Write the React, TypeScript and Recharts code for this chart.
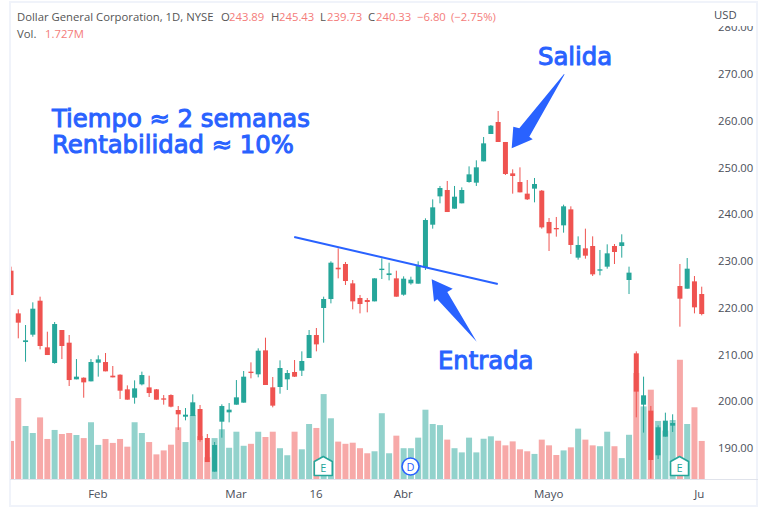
import React from "react";
import {
  ComposedChart,
  Bar,
  Cell,
  XAxis,
  YAxis,
  ReferenceLine,
  ReferenceDot,
} from "recharts";

const UP = "#26a69a";
const DOWN = "#ef5350";
const BLUE = "#2962ff";
const FONT = "'Open Sans', sans-serif";

const opens = [
  227.93, 218.8, 212.67, 214.24, 221.51, 211.53, 208.18, 215.24, 212.53, 204.69,
  205.04, 204.26, 208.25, 208.39, 205.47, 205.68, 202.55, 200.76, 203.62, 202.97,
  202.55, 200.62, 201.33, 198.13, 196.7, 196.84, 198.34, 192.14, 184.94, 195.63,
  197.63, 199.27, 199.7, 206.33, 205.76, 210.89, 202.98, 203.05, 204.69, 206.26,
  206.54, 209.25, 214.17, 219.95, 221.87, 228.57, 229.36, 225.22, 222.09, 221.66,
  221.37, 228.07, 227.0, 226.29, 222.8, 225.22, 225.15, 228.65, 237.77, 243.83,
  245.19, 241.2, 242.34, 246.9, 246.76, 251.32, 257.17, 259.74, 255.46, 248.75,
  246.9, 244.41, 245.48, 245.05, 238.35, 237.06, 237.63, 241.05, 230.72, 232.71,
  233.21, 227.94, 228.79, 233.21, 233.21, 225.94, 210.25, 199.27, 197.99, 188.44,
  192.43, 194.78, 224.65, 224.08, 225.65, 222.94,
];
const highs = [
  228.79, 219.66, 216.31, 221.16, 222.37, 214.88, 216.95, 215.24, 214.17, 209.03,
  205.11, 209.03, 209.82, 210.32, 207.54, 205.76, 203.4, 204.47, 206.33, 205.47,
  202.62, 201.33, 201.48, 198.98, 198.55, 201.48, 199.2, 192.99, 191.28, 199.34,
  199.62, 204.54, 206.47, 208.32, 211.32, 213.6, 205.19, 208.75, 206.68, 208.82,
  210.68, 215.24, 215.67, 222.37, 229.93, 232.71, 229.79, 225.93, 222.73, 222.09,
  226.29, 230.57, 229.64, 227.93, 226.72, 226.65, 229.93, 239.13, 243.19, 246.05,
  247.12, 246.05, 245.76, 250.25, 251.54, 256.53, 259.09, 262.09, 255.46, 249.61,
  250.04, 247.33, 247.76, 245.19, 239.2, 239.42, 242.05, 241.7, 235.28, 236.92,
  235.28, 232.36, 233.57, 233.64, 235.71, 228.79, 210.68, 205.26, 198.99, 194.85,
  197.56, 197.21, 229.36, 230.64, 226.79, 224.51,
];
const lows = [
  222.72, 213.46, 208.46, 213.81, 211.1, 209.89, 208.04, 209.03, 203.26, 204.69,
  200.76, 204.26, 205.26, 206.4, 205.11, 200.48, 200.34, 199.48, 203.4, 200.91,
  200.34, 199.27, 198.7, 193.85, 195.92, 196.84, 191.35, 187.0, 184.94, 192.21,
  195.49, 199.27, 199.7, 204.9, 205.12, 203.48, 198.7, 201.62, 202.41, 205.19,
  205.4, 209.25, 210.68, 212.53, 220.94, 226.29, 224.87, 219.66, 218.8, 219.02,
  221.37, 226.15, 225.86, 222.37, 222.58, 224.94, 225.15, 228.08, 236.92, 242.34,
  240.48, 241.2, 242.34, 246.76, 246.05, 251.32, 257.17, 255.46, 248.4, 244.41,
  244.69, 243.05, 242.55, 236.92, 232.14, 235.21, 236.06, 231.5, 230.29, 230.5,
  226.79, 226.94, 228.36, 229.36, 230.72, 222.94, 196.56, 193.29, 183.5, 187.65,
  192.43, 193.43, 215.95, 224.08, 218.8, 218.38,
];
const closes = [
  222.72, 216.81, 213.03, 219.8, 211.82, 209.89, 216.52, 211.82, 204.54, 205.26,
  204.04, 208.39, 208.96, 206.4, 205.11, 202.26, 200.34, 202.76, 205.61, 201.76,
  200.34, 200.34, 198.84, 197.2, 197.13, 199.77, 191.71, 187.0, 190.64, 198.98,
  198.2, 200.84, 205.26, 206.04, 210.82, 203.48, 199.06, 207.11, 206.04, 205.26,
  208.61, 214.17, 212.17, 221.87, 229.64, 228.22, 225.72, 221.37, 220.8, 221.23,
  226.29, 228.36, 227.36, 222.37, 226.22, 226.01, 229.14, 238.77, 241.48, 245.62,
  240.48, 243.76, 245.19, 248.54, 250.04, 255.17, 258.95, 255.46, 248.61, 248.18,
  244.69, 243.19, 246.47, 237.2, 235.92, 236.78, 241.7, 233.43, 233.43, 231.14,
  227.15, 228.22, 231.64, 231.93, 234.0, 227.51, 202.06, 201.27, 187.44, 194.43,
  195.85, 195.35, 221.94, 228.36, 220.09, 218.66,
];
// volume in millions
const volumes = [
  1.73, 3.68, 2.41, 2.09, 2.8, 1.82, 2.23, 2.05, 2.09, 2.0,
  1.86, 2.58, 1.55, 1.82, 1.64, 1.82, 1.47, 2.58, 2.09, 1.68,
  1.12, 1.3, 1.56, 2.35, 1.68, 2.91, 1.95, 0.99, 1.86, 2.26,
  1.42, 2.15, 1.51, 1.6, 2.15, 1.91, 2.15, 1.4, 1.08, 2.15,
  1.35, 2.5, 2.32, 3.86, 2.76, 1.7, 1.6, 1.65, 1.4, 1.17,
  1.26, 2.99, 1.17, 1.97, 1.4, 1.4, 1.88, 3.15, 2.5, 2.45,
  1.79, 1.4, 1.21, 1.88, 1.21, 1.83, 1.94, 1.74, 1.53, 1.71,
  1.35, 1.26, 1.14, 1.79, 1.53, 1.09, 1.3, 1.44, 2.29, 1.79,
  1.53, 1.49, 2.15, 1.49, 0.95, 2.01, 4.82, 3.3, 4.06, 2.64,
  2.2, 2.68, 5.42, 2.5, 3.26, 1.73,
];

const priceTicks = [190, 200, 210, 220, 230, 240, 250, 260, 270, 280];
const dateTicks = [12, 31, 42, 54, 74, 95];
const dateLabels = ["Feb", "Mar", "16", "Abr", "Mayo", "Ju"];
const eventBars = [43, 55, 92];
const eventTypes = ["E", "D", "E"];
const trendBars = [39, 67];
const trendPrices = [235.13, 225.08];

const data = opens.map((open, i) => ({
  i,
  open,
  high: highs[i],
  low: lows[i],
  close: closes[i],
  range: [lows[i], highs[i]],
  volume: volumes[i],
}));

function Candle(props: any) {
  const { x, y, width, height, payload } = props;
  const { open, high, low, close } = payload;
  const color = close >= open ? UP : DOWN;
  const unit = height / (high - low);
  const top = y + (high - Math.max(open, close)) * unit;
  const bodyH = Math.max(Math.abs(open - close) * unit, 1);
  const cx = x + width / 2;
  return (
    <g>
      <line x1={cx} x2={cx} y1={y} y2={y + height} stroke={color} strokeWidth={1} />
      <rect x={cx - 2.5} y={top} width={5} height={bodyH} fill={color} />
    </g>
  );
}

function EventMark(props: any) {
  const { cx, cy, type } = props;
  if (type === "D") {
    return (
      <g>
        <circle cx={cx} cy={cy} r={8.5} fill="#fff" stroke={BLUE} strokeWidth={1.6} />
        <text x={cx} y={cy + 4} textAnchor="middle" fontSize={11} fontFamily={FONT} fill={BLUE}>
          D
        </text>
      </g>
    );
  }
  const pts = [
    [cx, cy - 10],
    [cx + 9, cy - 5],
    [cx + 9, cy + 9],
    [cx - 9, cy + 9],
    [cx - 9, cy - 5],
  ]
    .map((p) => p.join(","))
    .join(" ");
  return (
    <g>
      <polygon points={pts} fill="#fff" stroke={UP} strokeWidth={1.6} strokeLinejoin="round" />
      <text x={cx} y={cy + 5} textAnchor="middle" fontSize={11} fontFamily={FONT} fill={UP}>
        E
      </text>
    </g>
  );
}

function DateTick(props: any) {
  const { x, y, payload } = props;
  const label = dateLabels[dateTicks.indexOf(payload.value)];
  return (
    <text
      x={label === "Ju" ? x + 3 : x}
      y={y + 11}
      textAnchor={label === "Ju" ? "end" : "middle"}
      fontSize={11.5}
      fontFamily={FONT}
      fill="#4a4e58"
    >
      {label}
    </text>
  );
}

const abs = (left: number, top: number): React.CSSProperties => ({
  position: "absolute",
  left,
  top,
  whiteSpace: "nowrap",
  lineHeight: "16px",
});

const header: [number, string, string][] = [
  [17, "Dollar General Corporation, 1D, NYSE", "#555"],
  [221, "O", "#555"],
  [229, "243.89", "#f47c7a"],
  [271, "H", "#555"],
  [279, "245.43", "#f47c7a"],
  [320, "L", "#555"],
  [327, "239.73", "#f47c7a"],
  [368, "C", "#555"],
  [376, "240.33", "#f47c7a"],
  [417, "\u22126.80", "#f47c7a"],
  [451, "(\u22122.75%)", "#f47c7a"],
];

export default function App() {
  return (
    <div style={{ position: "absolute", left: 0, top: 0, width: 768, height: 510, background: "#fff", overflow: "hidden" }}>
      <ComposedChart
        width={768}
        height={510}
        data={data}
        margin={{ top: 6, right: 10, bottom: 0, left: 7 }}
        barGap={-6}
      >
        <XAxis
          dataKey="i"
          type="category"
          ticks={dateTicks}
          interval={0}
          height={31}
          tick={<DateTick />}
          axisLine={false}
          tickLine={false}
        />
        <YAxis
          yAxisId="price"
          orientation="right"
          width={53}
          domain={[183.37, 284.55]}
          allowDataOverflow
          ticks={priceTicks}
          tickFormatter={(v: number) => v.toFixed(2)}
          tick={{ fontSize: 11.3, fontFamily: FONT, fill: "#4a4e58" }}
          tickMargin={7}
          axisLine={false}
          tickLine={false}
        />
        <YAxis yAxisId="vol" hide domain={[0, 21.5]} allowDataOverflow />
        <Bar yAxisId="vol" dataKey="volume" barSize={6} isAnimationActive={false}>
          {data.map((d) => (
            <Cell key={d.i} fill={d.close >= d.open ? "#92d2cc" : "#f7a9a8"} />
          ))}
        </Bar>
        <Bar yAxisId="price" dataKey="range" barSize={6} shape={<Candle />} isAnimationActive={false} />
        <ReferenceLine
          yAxisId="price"
          segment={[
            { x: trendBars[0], y: trendPrices[0] },
            { x: trendBars[1], y: trendPrices[1] },
          ]}
          stroke={BLUE}
          strokeWidth={2}
          ifOverflow="visible"
        />
        {eventBars.map((bar, k) => (
          <ReferenceDot
            key={bar}
            yAxisId="price"
            x={bar}
            y={186.04}
            shape={<EventMark type={eventTypes[k]} />}
            ifOverflow="visible"
          />
        ))}
      </ComposedChart>

      {/* left edge clip, frame and pane separator */}
      <div style={{ position: "absolute", left: 0, top: 0, width: 10, height: 510, background: "#fff" }} />
      <div style={{ position: "absolute", left: 9, top: 1, width: 749, height: 506, border: "2px solid #f0f3fa", boxSizing: "border-box" }} />
      <div style={{ position: "absolute", left: 10, top: 479, width: 748, height: 1, background: "#e0e3eb" }} />

      {/* USD label hides the top of the 280 tick */}
      <div style={{ position: "absolute", left: 708, top: 8, width: 46, height: 18, background: "#fff" }} />
      <div style={{ ...abs(714, 7), fontFamily: FONT, fontSize: 11.3, color: "#4a4e58" }}>USD</div>

      <div style={{ fontFamily: FONT, fontSize: 11.3 }}>
        {header.map(([left, text, color]) => (
          <div key={left} style={{ ...abs(left, 9), color }}>{text}</div>
        ))}
        <div style={{ ...abs(17, 26), color: "#555" }}>Vol.</div>
        <div style={{ ...abs(45, 26), color: "#f47c7a" }}>1.727M</div>
      </div>

      <svg width={768} height={510} style={{ position: "absolute", left: 0, top: 0 }}>
        <polygon fill={BLUE} points="564,74 519.3,128.3 513.3,126.7 511.7,148.3 532.7,139.3 529.3,136.7 564.5,74.5" />
        <polygon fill={BLUE} points="431.7,279.3 452.7,288.7 447.3,292 476.7,341.7 437.3,299.3 434,301.7" />
        <g fill={BLUE} fontFamily="'DejaVu Sans', sans-serif" fontSize={24.3} stroke={BLUE} strokeWidth={1}>
          <text x={52} y={126.5}>Tiempo ≈ 2 semanas</text>
          <text x={52} y={153}>Rentabilidad ≈ 10%</text>
          <text x={538} y={64.5}>Salida</text>
          <text x={438} y={369}>Entrada</text>
        </g>
      </svg>
    </div>
  );
}
